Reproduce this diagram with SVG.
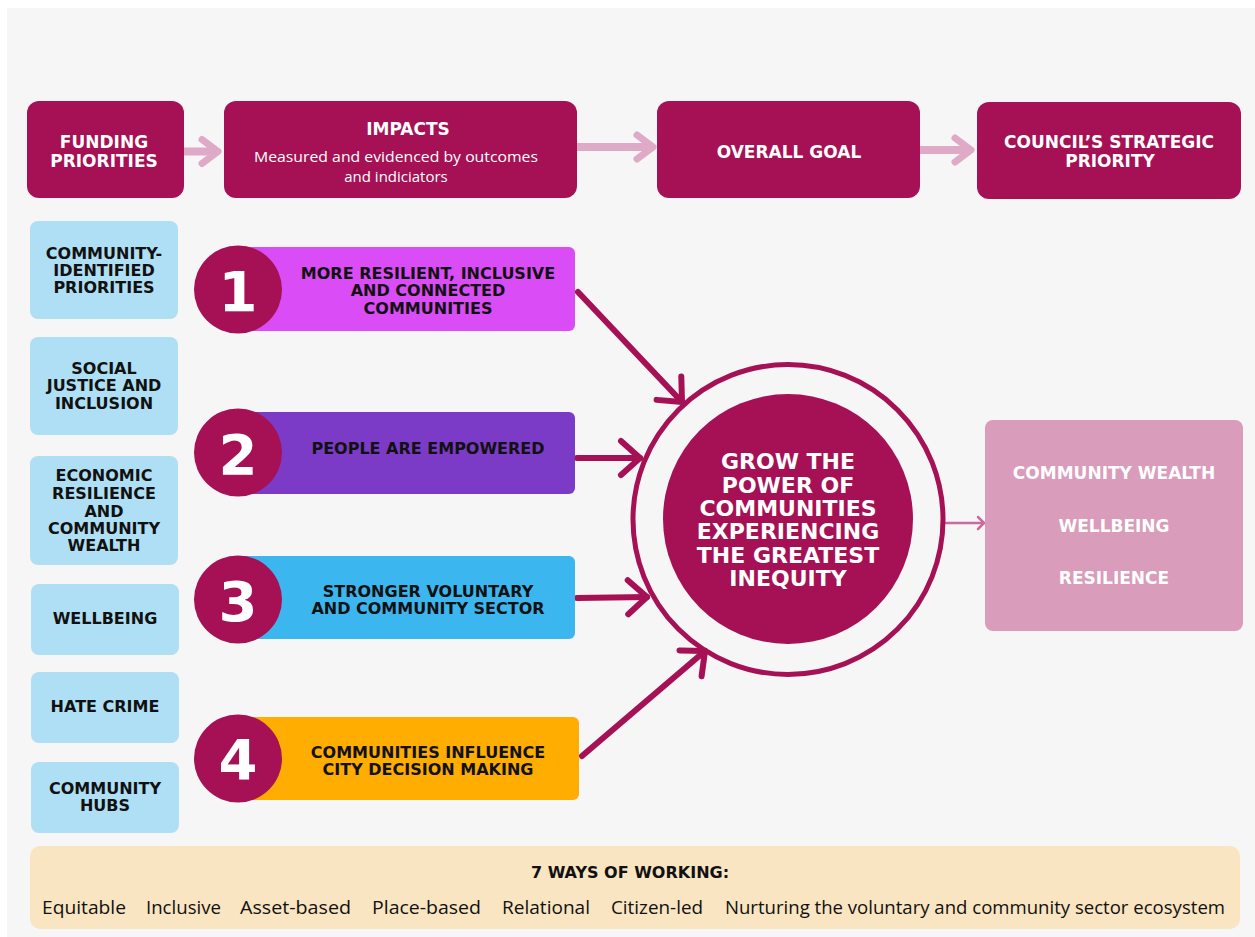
<svg xmlns="http://www.w3.org/2000/svg" width="1255" height="937" viewBox="0 0 1255 937">
<defs>
<style>
.bg{fill:#f6f6f6}
.top{fill:#a51154}
.tw{fill:#ffffff;font-family:"DejaVu Sans","Liberation Sans",sans-serif;font-weight:700;text-anchor:middle}
.tws{fill:#ffffff;font-family:"Open Sans","Liberation Sans",sans-serif;font-weight:400;text-anchor:middle;font-size:15px}
.blue{fill:#afdff4}
.tb{fill:#111111;font-family:"DejaVu Sans","Liberation Sans",sans-serif;font-weight:700;text-anchor:middle;font-size:16px}
.num{fill:#a51154}
.numt{fill:#ffffff;font-family:"DejaVu Sans","Liberation Sans",sans-serif;font-weight:700;text-anchor:middle;font-size:56px}
.conn{stroke:#a51154;stroke-width:6;fill:none;stroke-linecap:round}
.pink{stroke:#deaac7;stroke-width:8;fill:none}
.thin{stroke:#cc6a9e;stroke-width:2.5;fill:none}
.way{fill:#111111;font-family:"Open Sans","Liberation Sans",sans-serif;font-size:18px}
</style>
<marker id="ah" markerUnits="userSpaceOnUse" viewBox="-30 -25 40 50" markerWidth="40" markerHeight="50" refX="0" refY="0" orient="auto" overflow="visible">
<path d="M-19,-17 L0,0 L-19,17" fill="none" stroke="#a51154" stroke-width="6" stroke-linecap="round" stroke-linejoin="round"/>
</marker>
<marker id="ahp" markerUnits="userSpaceOnUse" viewBox="-30 -20 40 40" markerWidth="40" markerHeight="40" refX="0" refY="0" orient="auto" overflow="visible">
<path d="M-16,-12 L0,0 L-16,12" fill="none" stroke="#deaac7" stroke-width="7" stroke-linecap="round" stroke-linejoin="round"/>
</marker>
<marker id="aht" markerUnits="userSpaceOnUse" viewBox="-10 -8 12 16" markerWidth="12" markerHeight="16" refX="0" refY="0" orient="auto" overflow="visible">
<path d="M-6,-6 L0,0 L-6,6" fill="none" stroke="#cc6a9e" stroke-width="2.5" stroke-linecap="round" stroke-linejoin="round"/>
</marker>
</defs>
<rect x="0" y="0" width="1255" height="937" fill="#ffffff"/>
<rect class="bg" x="7" y="8" width="1248" height="929"/>

<g id="connectors">
<line class="pink" x1="184" y1="151.5" x2="218" y2="151.5" marker-end="url(#ahp)"/>
<line class="pink" x1="577" y1="147" x2="653" y2="147" marker-end="url(#ahp)"/>
<line class="pink" x1="920" y1="150" x2="971" y2="150" marker-end="url(#ahp)"/>
<line class="conn" x1="578" y1="292" x2="682" y2="402" marker-end="url(#ah)"/>
<line class="conn" x1="577" y1="458" x2="640" y2="458" marker-end="url(#ah)"/>
<line class="conn" x1="577" y1="598" x2="647" y2="597" marker-end="url(#ah)"/>
<line class="conn" x1="582" y1="756" x2="705" y2="651" marker-end="url(#ah)"/>
<line class="thin" x1="945" y1="523" x2="984" y2="523" marker-end="url(#aht)"/>
</g>

<g id="funding-priorities">
<rect class="top" x="27" y="101" width="157" height="97" rx="12"/>
<text class="tw" font-size="17" x="104" y="148">FUNDING</text>
<text class="tw" font-size="17" x="104" y="167">PRIORITIES</text>
</g>
<g id="impacts">
<rect class="top" x="224" y="101" width="353" height="97" rx="12"/>
<text class="tw" font-size="17" x="408" y="135">IMPACTS</text>
<text class="tws" x="396" y="162" textLength="284" lengthAdjust="spacingAndGlyphs">Measured and evidenced by outcomes</text>
<text class="tws" x="396" y="182">and indiciators</text>
</g>
<g id="overall-goal">
<rect class="top" x="657" y="101" width="263" height="97" rx="12"/>
<text class="tw" font-size="17" x="789" y="158">OVERALL GOAL</text>
</g>
<g id="council-strategic-priority">
<rect class="top" x="977" y="102" width="264" height="97" rx="12"/>
<text class="tw" font-size="17" x="1109" y="148">COUNCIL’S STRATEGIC</text>
<text class="tw" font-size="17" x="1110" y="167">PRIORITY</text>
</g>

<g id="community-identified-priorities">
<rect class="blue" x="30" y="221" width="148" height="98" rx="8"/>
<text class="tb" x="104" y="259">COMMUNITY-</text>
<text class="tb" x="104" y="276">IDENTIFIED</text>
<text class="tb" x="104" y="293">PRIORITIES</text>
</g>
<g id="social-justice">
<rect class="blue" x="30" y="337" width="148" height="98" rx="8"/>
<text class="tb" x="104" y="374">SOCIAL</text>
<text class="tb" x="104" y="391">JUSTICE AND</text>
<text class="tb" x="104" y="409">INCLUSION</text>
</g>
<g id="economic-resilience">
<rect class="blue" x="30" y="456" width="148" height="109" rx="8"/>
<text class="tb" x="104" y="481">ECONOMIC</text>
<text class="tb" x="104" y="499">RESILIENCE</text>
<text class="tb" x="104" y="517">AND</text>
<text class="tb" x="104" y="534">COMMUNITY</text>
<text class="tb" x="104" y="551">WEALTH</text>
</g>
<g id="wellbeing">
<rect class="blue" x="31" y="584" width="148" height="71" rx="8"/>
<text class="tb" x="105" y="624">WELLBEING</text>
</g>
<g id="hate-crime">
<rect class="blue" x="31" y="672" width="148" height="71" rx="8"/>
<text class="tb" x="105" y="712">HATE CRIME</text>
</g>
<g id="community-hubs">
<rect class="blue" x="31" y="762" width="148" height="71" rx="8"/>
<text class="tb" x="105" y="794">COMMUNITY</text>
<text class="tb" x="105" y="811">HUBS</text>
</g>

<g id="outcome-1">
<rect x="236" y="247" width="339" height="84" rx="6" fill="#da4cf5"/>
<circle class="num" cx="238" cy="289.5" r="44"/>
<text class="numt" x="238" y="311">1</text>
<text class="tb" font-size="16.5" x="428" y="279">MORE RESILIENT, INCLUSIVE</text>
<text class="tb" font-size="16.5" x="428" y="296">AND CONNECTED</text>
<text class="tb" font-size="16.5" x="428" y="314">COMMUNITIES</text>
</g>
<g id="outcome-2">
<rect x="236" y="412" width="339" height="82" rx="6" fill="#7c3bc6"/>
<circle class="num" cx="238" cy="452.5" r="44"/>
<text class="numt" x="238" y="474">2</text>
<text class="tb" font-size="16.5" x="428" y="454">PEOPLE ARE EMPOWERED</text>
</g>
<g id="outcome-3">
<rect x="236" y="556" width="339" height="83" rx="6" fill="#3cb6ef"/>
<circle class="num" cx="238" cy="599.5" r="44"/>
<text class="numt" x="238" y="621">3</text>
<text class="tb" font-size="16.5" x="428" y="597">STRONGER VOLUNTARY</text>
<text class="tb" font-size="16.5" x="428" y="614">AND COMMUNITY SECTOR</text>
</g>
<g id="outcome-4">
<rect x="236" y="717" width="343" height="83" rx="6" fill="#ffad00"/>
<circle class="num" cx="238" cy="758.5" r="44"/>
<text class="numt" x="238" y="779">4</text>
<text class="tb" font-size="16.5" x="428" y="758">COMMUNITIES INFLUENCE</text>
<text class="tb" font-size="16.5" x="428" y="775">CITY DECISION MAKING</text>
</g>

<g id="overall-goal-circle">
<circle cx="788" cy="519.5" r="155" fill="none" stroke="#a51154" stroke-width="5"/>
<circle cx="788" cy="519" r="125" fill="#a51154"/>
<text class="tw" font-size="22" x="788" y="469">GROW THE</text>
<text class="tw" font-size="22" x="788" y="493">POWER OF</text>
<text class="tw" font-size="22" x="788" y="516">COMMUNITIES</text>
<text class="tw" font-size="22" x="788" y="539">EXPERIENCING</text>
<text class="tw" font-size="22" x="788" y="563">THE GREATEST</text>
<text class="tw" font-size="22" x="788" y="586">INEQUITY</text>
</g>

<g id="strategic-priority-box">
<rect x="985" y="420" width="258" height="211" rx="8" fill="#d99cba"/>
<text class="tw" font-size="17" x="1114" y="479">COMMUNITY WEALTH</text>
<text class="tw" font-size="17" x="1114" y="532">WELLBEING</text>
<text class="tw" font-size="17" x="1114" y="584">RESILIENCE</text>
</g>

<g id="ways-of-working">
<rect x="30" y="846" width="1210" height="83" rx="10" fill="#f9e5c1"/>
<text class="tb" font-size="17" x="630" y="878">7 WAYS OF WORKING:</text>
<text class="way" x="42" y="914" textLength="84" lengthAdjust="spacingAndGlyphs">Equitable</text>
<text class="way" x="146" y="914" textLength="75" lengthAdjust="spacingAndGlyphs">Inclusive</text>
<text class="way" x="240" y="914" textLength="111" lengthAdjust="spacingAndGlyphs">Asset-based</text>
<text class="way" x="372" y="914" textLength="109" lengthAdjust="spacingAndGlyphs">Place-based</text>
<text class="way" x="502" y="914" textLength="88" lengthAdjust="spacingAndGlyphs">Relational</text>
<text class="way" x="611" y="914" textLength="92" lengthAdjust="spacingAndGlyphs">Citizen-led</text>
<text class="way" x="725" y="914" textLength="500" lengthAdjust="spacingAndGlyphs">Nurturing the voluntary and community sector ecosystem</text>
</g>
</svg>
